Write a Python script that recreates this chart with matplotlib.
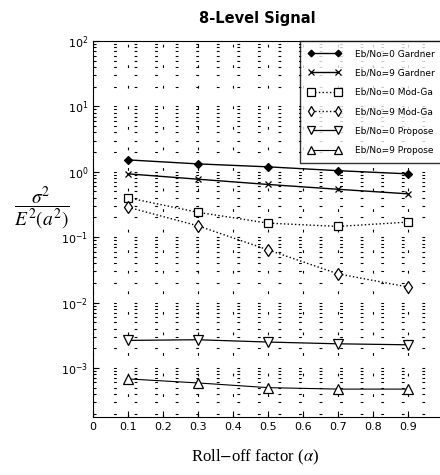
import matplotlib
matplotlib.use("Agg")
import matplotlib.pyplot as plt
import numpy as np
from matplotlib.ticker import LogLocator, NullFormatter, FixedLocator

alpha = [0.1, 0.3, 0.5, 0.7, 0.9]
gardner_0 = [1.52, 1.32, 1.19, 1.04, 0.93]
gardner_9 = [0.93, 0.77, 0.64, 0.54, 0.46]
modga_0 = [0.40, 0.24, 0.164, 0.146, 0.17]
modga_9 = [0.287, 0.149, 0.064, 0.0275, 0.0173]
propose_0 = [0.00264, 0.0027, 0.00249, 0.00234, 0.00226]
propose_9 = [6.8e-4, 5.9e-4, 5.0e-4, 4.75e-4, 4.75e-4]

labels = ["Eb/No=0 Gardner", "Eb/No=9 Gardner", "Eb/No=0 Mod-Ga",
          "Eb/No=9 Mod-Ga", "Eb/No=0 Propose", "Eb/No=9 Propose"]
xtick_vals = [0, 0.1, 0.2, 0.3, 0.4, 0.5, 0.6, 0.7, 0.8, 0.9, 1.0]
xtick_labels = ["0", "0.1", "0.2", "0.3", "0.4", "0.5", "0.6", "0.7", "0.8", "0.9", ""]

W, H = 440, 475
fig = plt.figure(figsize=(W / 100, H / 100), dpi=100)
ax = fig.add_axes([93 / W, (H - 417) / H, (443 - 93) / W, (417 - 41) / H])

series = [
    (gardner_0, dict(marker='D', ms=4, mfc='black', ls='-', lw=1.0)),
    (gardner_9, dict(marker='x', ms=4.5, ls='-', lw=1.0)),
    (modga_0, dict(marker='s', ms=6, mfc='white', ls=':', lw=1.0)),
    (modga_9, dict(marker='d', ms=6.5, mfc='white', ls=':', lw=1.0)),
    (propose_0, dict(marker='v', ms=6.5, mfc='white', ls='-', lw=0.9)),
    (propose_9, dict(marker='^', ms=6.5, mfc='white', ls='-', lw=0.8)),
]
for (vals, st), lab in zip(series, labels):
    ax.plot(alpha, vals, color='black', mec='black', mew=0.9, label=lab, **st)

ax.set_yscale('log')
ax.set_xlim(0, 1)
ax.set_ylim(10 ** -3.75, 100)
ax.xaxis.set_major_locator(FixedLocator(xtick_vals))
ax.set_xticklabels(xtick_labels, fontsize=8)
ax.yaxis.set_major_locator(LogLocator(base=10, numticks=10))
ax.yaxis.set_minor_locator(LogLocator(base=10, subs=np.arange(2, 10), numticks=20))
ax.yaxis.set_minor_formatter(NullFormatter())
ax.tick_params(which='both', direction='in', top=False, right=False)
ax.tick_params(which='major', length=4, labelsize=8)
ax.tick_params(which='minor', length=2)

gstyle = dict(color='black', ls=(0, (2.5, 16)), lw=0.8)
ax.grid(True, which='major', axis='both', **gstyle)
ax.grid(True, which='minor', axis='y', **gstyle)

leg = ax.legend(loc='upper right', numpoints=2, frameon=True,
                fancybox=False, edgecolor='black', handlelength=3.6,
                borderaxespad=0, labelspacing=1.15, handletextpad=1.6,
                borderpad=0.9, markerscale=0.85,
                prop={'family': ['Liberation Sans Narrow', 'DejaVu Sans'], 'size': 6.5})
leg.get_frame().set_linewidth(1.0)

fig.text(257 / W, 1 - 18 / H, "8-Level Signal", ha='center', va='center',
         fontsize=10.5, fontweight='bold')
fig.text(42 / W, 1 - 208 / H, r"$\dfrac{\sigma^2}{E^2(a^2)}$", ha='center', va='center',
         fontsize=14, math_fontfamily='stix')
fig.text(255 / W, 1 - 457 / H, r"Roll$-$off factor ($\alpha$)", ha='center', va='center',
         fontsize=12, family='Liberation Serif', math_fontfamily='stix')

fig.savefig("out.png", dpi=100)
